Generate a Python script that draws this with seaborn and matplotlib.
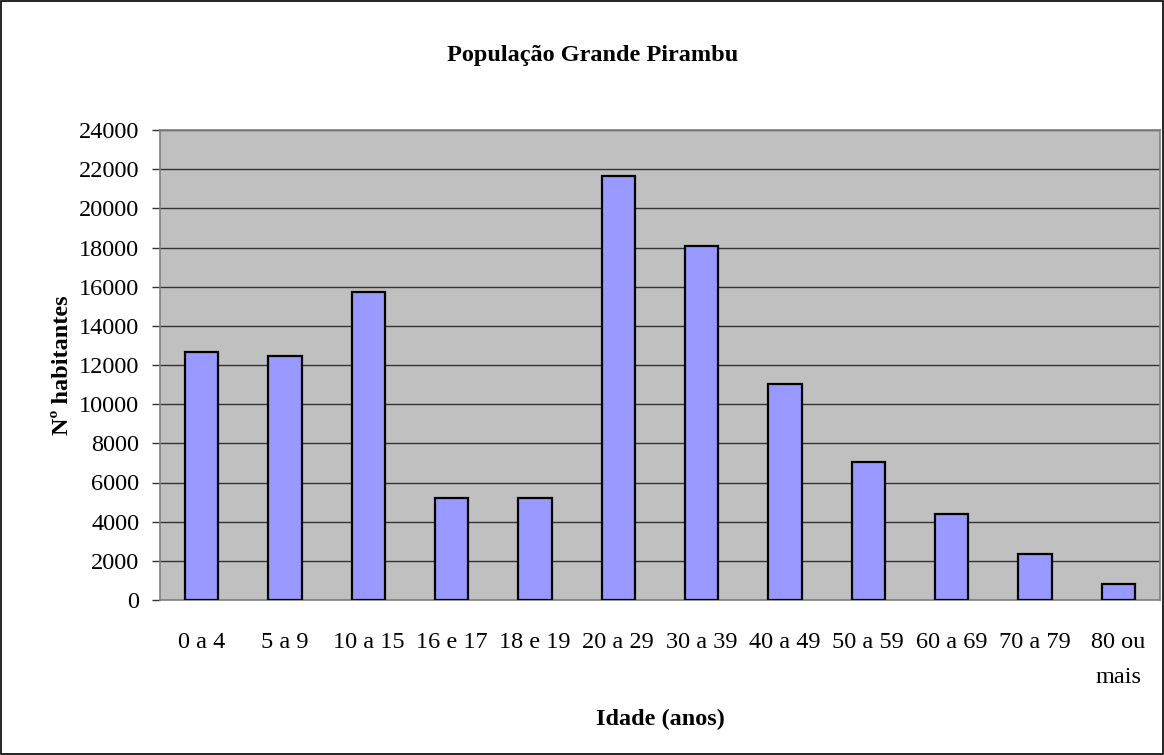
import numpy as np
import pandas as pd
import matplotlib
matplotlib.use("Agg")
import matplotlib.pyplot as plt
import seaborn as sns

faixas = ["0 a 4", "5 a 9", "10 a 15", "16 e 17", "18 e 19", "20 a 29",
          "30 a 39", "40 a 49", "50 a 59", "60 a 69", "70 a 79", "80 ou\nmais"]
habitantes = [12680, 12460, 15730, 5230, 5230, 21650,
              18080, 11030, 7050, 4390, 2350, 820]
y_ticks = np.arange(0, 24001, 2000)

sns.set_style("white")
plt.rcParams['font.family'] = ['Liberation Serif', 'DejaVu Serif']
plt.rcParams['text.color'] = 'black'
plt.rcParams['xtick.color'] = 'black'
plt.rcParams['ytick.color'] = 'black'
plt.rcParams['axes.labelcolor'] = 'black'

df = pd.DataFrame({"faixa": faixas, "hab": habitantes})

fig = plt.figure(figsize=(11.64, 7.55), dpi=100)
ax = fig.add_axes([160 / 1164, 1 - 600 / 755, 1000 / 1164, 470 / 755])
ax.set_facecolor("#c0c0c0")

sns.barplot(data=df, x="faixa", y="hab", ax=ax, color="#9999ff", saturation=1,
            width=0.4, edgecolor="black", linewidth=1.6, zorder=3)

ax.set_ylim(0, 24000)
ax.set_xlim(-0.5, len(faixas) - 0.5)
ax.set_yticks(y_ticks)
ax.set_yticklabels([str(v) for v in y_ticks], fontsize=17.5)
ax.yaxis.grid(True, color="#333333", linewidth=1)
ax.set_axisbelow(True)
for sp in ax.spines.values():
    sp.set_color("#808080")
    sp.set_linewidth(1.2)

# ticks at category boundaries, labels centred
ax.set_xticks(np.arange(-0.5, len(faixas)), minor=True)
ax.tick_params(axis="x", which="minor", length=6, color="#333333", width=1, direction="out")
ax.tick_params(axis="x", which="major", length=0, pad=23, labelsize=17.5)
ax.tick_params(axis="y", length=6, color="#333333", width=1, pad=9, direction="out", left=True)
for lbl in ax.get_xticklabels():
    lbl.set_linespacing(1.9)
    lbl.set_verticalalignment("top")

ax.set_xlabel("Idade (anos)", fontsize=17.5, fontweight="bold", labelpad=15)
ax.set_ylabel("Nº habitantes", fontsize=17.5, fontweight="bold", labelpad=4)
fig.text(593 / 1164, 1 - 55 / 755, "População Grande Pirambu", ha="center", va="center",
         fontsize=17.5, fontweight="bold")

fig.patches.append(plt.Rectangle((0.0005, 0.0007), 0.999, 0.9986, transform=fig.transFigure,
                                 fill=False, edgecolor="black", linewidth=1.2))

plt.savefig("out.png", dpi=100)
plt.close(fig)
